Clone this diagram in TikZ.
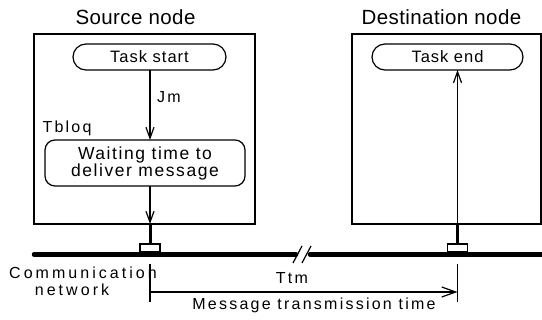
\documentclass[tikz,border=0pt]{standalone}
\usepackage{fontspec}
\setmainfont{Liberation Sans}
\usepackage{tikz}
\usetikzlibrary{arrows.meta,positioning,calc}

\begin{document}
\begin{tikzpicture}[
    x=1pt, y=-1pt,
    frame/.style={draw, line width=1.2pt, inner sep=0pt, outer sep=0pt},
    task/.style={draw, line width=1.2pt, rounded corners=13pt, minimum height=26pt, inner sep=0pt, outer sep=0pt,
        font=\fontsize{16.5}{19}\selectfont\addfontfeature{LetterSpace=6}},
    title/.style={font=\fontsize{20.5}{24}\selectfont\addfontfeature{LetterSpace=2}},
    lab/.style={inner sep=0pt, font=\fontsize{16}{18}\selectfont\addfontfeature{LetterSpace=14}},
    tap/.style={draw, line width=1.2pt, minimum width=20pt, minimum height=8pt, inner sep=0pt, outer sep=0pt},
    arr/.style={-{Straight Barb[length=11pt, width=8pt, line width=1.2pt]}, line width=1.2pt},
    stub/.style={line width=3pt},
    net/.style={line width=4.5pt, line cap=round}
]
  \useasboundingbox (0,0) rectangle (542,320);

  % Node frames
  \node[frame, minimum width=221pt, minimum height=190pt] (src) at (144.5,129) {};
  \node[frame, minimum width=189pt, minimum height=190pt] (dst) at (446.5,129) {};
  \node[title] (srctitle) at (135.5,17) {Source node};
  \node[title] (dsttitle) at (441.5,17) {Destination node};

  % Tasks
  \node[task, minimum width=153pt] (tstart) at (149.5,57) {Task start};
  \node[task, minimum width=151pt] (tend) at (447.5,57) {Task end};
  \node[task, rounded corners=10pt, minimum width=200pt, minimum height=46pt, align=center,
        font=\fontsize{17.5}{17}\selectfont\addfontfeature{LetterSpace=9}] (wait) at (145,163)
        {Waiting time to\\deliver message};

  % Network and taps
  \node[tap] (srctap) at (150,248) {};
  \node[tap] (dsttap) at (457.5,248) {};
  \coordinate (netL) at (34,254.5);
  \coordinate (brkL) at (296,254.5);
  \coordinate (brkR) at (310,254.5);
  \coordinate (netR) at (545,254.5);
  \draw[net] (netL) -- (brkL);
  \draw[net] (brkR) -- (netR);
  \draw[line width=1.2pt] (293,263) -- (302,246) (302,263) -- (311,246);

  % Arrows
  \draw[arr] (tstart.south -| srctap) -- (wait.north -| srctap);
  \draw[arr] (wait.south -| srctap) -- (src.south -| srctap);
  \draw[stub] (src.south -| srctap) -- (srctap.north);
  \draw[stub] (dsttap.north) -- (dst.south -| dsttap);
  \draw[arr] (dst.south -| dsttap) -- (tend.south -| dsttap);

  % Transmission time
  \coordinate (ttmA) at (150,292);
  \coordinate (ttmB) at (457.5,292);
  \draw[line width=1.2pt] (150,264) -- (150,302);
  \draw[line width=1.2pt] (457.5,264) -- (457.5,302);
  \draw[arr, -{Straight Barb[length=14pt, width=10pt, line width=1.2pt]}] (ttmA) -- (ttmB);

  % Labels
  \node[lab] (jm) at (169,97) {Jm};
  \node[lab] (tbloq) at (67,128) {Tbloq};
  \node[lab] (ttm) at (292,278) {Ttm};
  \node[lab] (msgtime) at (314,305) {Message transmission time};
  \node[lab, align=center, font=\fontsize{16}{17}\selectfont\addfontfeature{LetterSpace=19}] (comnet) at (83,281)
        {Communication\\network\hspace*{22pt}};
\end{tikzpicture}
\end{document}
